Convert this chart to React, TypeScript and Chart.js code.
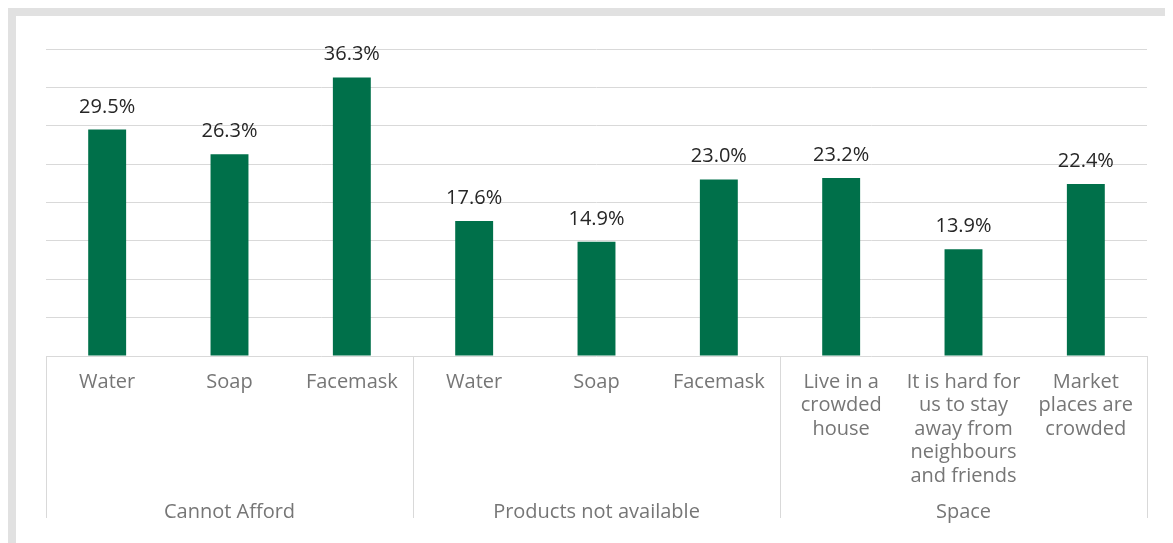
import React, { useEffect, useRef } from "react";
import { Chart, registerables } from "chart.js";

Chart.register(...registerables);

const categories: string[][] = [
  ["Water"],
  ["Soap"],
  ["Facemask"],
  ["Water"],
  ["Soap"],
  ["Facemask"],
  ["Live in a", "crowded", "house"],
  ["It is hard for", "us to stay", "away from", "neighbours", "and friends"],
  ["Market", "places are", "crowded"],
];
const groups = ["Cannot Afford", "Products not available", "Space"];
const groupSizes = [3, 3, 3];
const values = [29.5, 26.3, 36.3, 17.6, 14.9, 23.0, 23.2, 13.9, 22.4];
const yMax = 40;
const yStep = 5;

const FONT = "'Open Sans', sans-serif";
const BAR_COLOR = "#00704A";
const GRID_COLOR = "#d9d9d9";
const TICK_COLOR = "#767676";
const LABEL_COLOR = "#262626";

const overlayPlugin = {
  id: "overlay",
  afterDatasetsDraw(chart: any) {
    const ctx = chart.ctx;
    const meta = chart.getDatasetMeta(0);
    ctx.save();
    ctx.font = `20px ${FONT}`;
    ctx.fillStyle = LABEL_COLOR;
    ctx.textAlign = "center";
    ctx.textBaseline = "alphabetic";
    meta.data.forEach((bar: any, i: number) => {
      ctx.fillText(values[i].toFixed(1) + "%", bar.x, bar.y - 17);
    });
    ctx.restore();
  },
  afterDraw(chart: any) {
    const ctx = chart.ctx;
    const xs = chart.scales.x;
    const area = chart.chartArea;
    const bottom = area.bottom + 162;
    const bounds: number[] = [area.left];
    let idx = 0;
    groupSizes.forEach((n, g) => {
      idx += n;
      if (g < groupSizes.length - 1) {
        bounds.push((xs.getPixelForTick(idx - 1) + xs.getPixelForTick(idx)) / 2);
      }
    });
    bounds.push(area.right);
    ctx.save();
    ctx.strokeStyle = GRID_COLOR;
    ctx.lineWidth = 1;
    bounds.forEach((bx) => {
      const x = Math.round(bx) + 0.5;
      ctx.beginPath();
      ctx.moveTo(x, area.bottom);
      ctx.lineTo(x, bottom);
      ctx.stroke();
    });
    ctx.font = `20px ${FONT}`;
    ctx.fillStyle = TICK_COLOR;
    ctx.textAlign = "center";
    ctx.textBaseline = "middle";
    groups.forEach((g, i) => {
      ctx.fillText(g, (bounds[i] + bounds[i + 1]) / 2, area.bottom + 156);
    });
    ctx.restore();
  },
};

export default function App() {
  const ref = useRef<HTMLCanvasElement | null>(null);
  useEffect(() => {
    if (!ref.current) return;
    const chart = new Chart(ref.current, {
      type: "bar",
      data: {
        labels: categories,
        datasets: [
          {
            data: values,
            backgroundColor: BAR_COLOR,
            borderWidth: 0,
            categoryPercentage: 1,
            barPercentage: 0.31,
          },
        ],
      },
      options: {
        responsive: false,
        animation: false,
        devicePixelRatio: 1,
        layout: { padding: { left: 30, right: 26, top: 33, bottom: 0 } },
        plugins: {
          legend: { display: false },
          tooltip: { enabled: false },
          title: { display: false },
        },
        scales: {
          x: {
            grid: { display: false, drawTicks: false },
            border: { display: false },
            ticks: {
              autoSkip: false,
              maxRotation: 0,
              minRotation: 0,
              padding: 14,
              color: TICK_COLOR,
              font: { family: FONT, size: 20, lineHeight: 1.18 },
            },
            afterFit: (s: any) => {
              s.height = 187;
            },
          },
          y: {
            min: 0,
            max: yMax,
            ticks: { display: false, stepSize: yStep },
            grid: { color: GRID_COLOR, drawTicks: false, lineWidth: 1 },
            border: { display: false },
            afterFit: (s: any) => {
              s.width = 0;
            },
          },
        },
      },
      plugins: [overlayPlugin],
    });
    return () => chart.destroy();
  }, []);

  return (
    <div style={{ width: 1165, height: 535, overflow: "hidden" }}>
      <div
        style={{
          border: "8px solid #e1e1e1",
          width: 1180,
          height: 560,
          background: "#ffffff",
        }}
      >
        <canvas ref={ref} width={1157} height={527} style={{ display: "block" }} />
      </div>
    </div>
  );
}
